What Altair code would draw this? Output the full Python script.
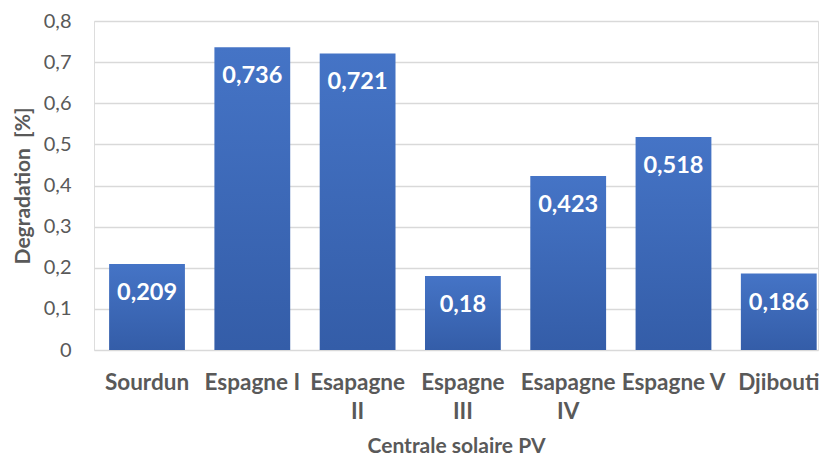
import altair as alt
import pandas as pd

categories = ["Sourdun", "Espagne I", "Esapagne II", "Espagne III", "Esapagne IV", "Espagne V", "Djibouti"]
values = [0.209, 0.736, 0.721, 0.18, 0.423, 0.518, 0.186]

df = pd.DataFrame({"site": categories, "deg": values})

FONT = "Lato"
GRAY = "#595959"

base = alt.Chart(df).encode(
    x=alt.X("site:N", sort=categories, title="Centrale solaire PV",
            scale=alt.Scale(paddingInner=0.28, paddingOuter=0.078, align=0.92),
            axis=alt.Axis(labelAngle=0, labelFont=FONT, labelFontSize=22.5, labelFontWeight="bold",
                          labelColor=GRAY, labelPadding=32, ticks=False, domain=False,
                          labelExpr="length(datum.label) > 9 ? split(datum.label, ' ') : datum.label",
                          labelLineHeight=29, labelBaseline="middle",
                          titleFont=FONT, titleFontSize=21, titleFontWeight="bold", titleColor=GRAY,
                          titlePadding=13)),
    y=alt.Y("deg:Q", title="Degradation\u00a0\u00a0[%]",
            scale=alt.Scale(domain=[0, 0.8], nice=False),
            axis=alt.Axis(values=[0, 0.1, 0.2, 0.3, 0.4, 0.5, 0.6, 0.7, 0.8],
                          labelExpr="datum.value == 0 ? '0' : replace(format(datum.value, '.1f'), '.', ',')",
                          labelFont=FONT, labelFontSize=20, labelColor=GRAY, labelPadding=23,
                          ticks=False, domain=False, gridColor="#D9D9D9", gridWidth=1.3,
                          titleFont=FONT, titleFontSize=21, titleFontWeight="bold", titleColor=GRAY,
                          titlePadding=10)),
)

bars = base.mark_bar(
    color=alt.Gradient(gradient="linear", x1=0, x2=0, y1=0, y2=1,
                       stops=[alt.GradientStop(color="#4574C6", offset=0),
                              alt.GradientStop(color="#345DA8", offset=1)])
)

labels = base.transform_calculate(
    txt="replace(toString(datum.deg), '.', ',')"
).mark_text(font=FONT, fontSize=23.5, fontWeight="bold", color="white", baseline="middle", dy=29).encode(
    text="txt:N"
)

chart = (bars + labels).properties(
    width=724, height=329, padding={"left": 4, "top": 3, "right": 0, "bottom": 0}
).configure_view(stroke=None).configure(background="white")

chart.save("out.html", embed_options={"renderer": "svg", "actions": False})
